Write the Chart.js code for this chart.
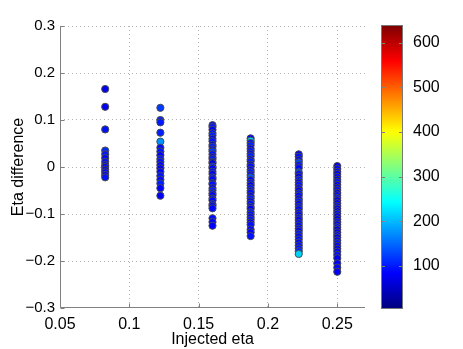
<!DOCTYPE html>
<html>
<head>
<meta charset="utf-8">
<script src="https://cdn.jsdelivr.net/npm/chart.js@4/dist/chart.umd.min.js"></script>
<style>
  body { margin: 0; background: #fff; }
  #wrap { position: relative; width: 463px; height: 349px; }
  #wrap canvas { position: absolute; left: 0; top: 0; }
</style>
</head>
<body>
<div id="wrap">
  <canvas id="main" width="463" height="349"></canvas>
  <canvas id="cbar" width="463" height="349"></canvas>
</div>
<script>
// columnas de eta inyectado
const injectedEta = [0.0826, 0.1224, 0.16, 0.1875, 0.2222, 0.25];

// diferencia de eta por columna
const etaDiff = [
  [0.166, 0.128, 0.080, 0.035, 0.027, 0.019, 0.011, 0.004, 0.000, -0.006, -0.011, -0.017, -0.022],
  [0.126, 0.100, 0.095, 0.073, 0.054, 0.041, 0.033, 0.025, 0.017, 0.011, 0.004, -0.003, -0.010, -0.019, -0.027, -0.035, -0.045, -0.061],
  [0.089, 0.085, 0.079, 0.072, 0.067, 0.060, 0.055, 0.047, 0.043, 0.037, 0.033, 0.027, 0.021, 0.017, 0.011, 0.008, 0.001, -0.003, -0.010, -0.015, -0.022, -0.026, -0.034, -0.037, -0.045, -0.050, -0.056, -0.060, -0.067, -0.071, -0.079, -0.083, -0.088, -0.109, -0.117, -0.125],
  [0.061, 0.056, 0.051, 0.046, 0.039, 0.034, 0.028, 0.023, 0.016, 0.012, 0.005, 0.001, -0.006, -0.011, -0.017, -0.022, -0.028, -0.034, -0.039, -0.045, -0.051, -0.055, -0.062, -0.067, -0.073, -0.078, -0.085, -0.089, -0.096, -0.101, -0.107, -0.112, -0.118, -0.123, -0.133, -0.139, -0.147],
  [0.027, 0.022, 0.015, 0.010, 0.004, -0.002, -0.011, -0.015, -0.021, -0.027, -0.033, -0.038, -0.045, -0.050, -0.056, -0.061, -0.068, -0.073, -0.079, -0.085, -0.090, -0.097, -0.102, -0.108, -0.113, -0.119, -0.125, -0.131, -0.136, -0.142, -0.148, -0.154, -0.161, -0.167, -0.173, -0.179, -0.185],
  [0.002, -0.004, -0.010, -0.015, -0.021, -0.027, -0.032, -0.038, -0.044, -0.049, -0.055, -0.060, -0.066, -0.071, -0.077, -0.083, -0.088, -0.094, -0.099, -0.105, -0.111, -0.117, -0.122, -0.128, -0.133, -0.139, -0.145, -0.150, -0.156, -0.162, -0.168, -0.174, -0.180, -0.187, -0.194, -0.205, -0.214, -0.223]
];

// valor de color (barra de color)
const colorValue = [
  [78, 80, 95, 110, 100, 88, 95, 82, 90, 80, 92, 84, 96],
  [120, 108, 100, 104, 175, 92, 98, 86, 102, 94, 88, 80, 90, 98, 92, 104, 86, 82],
  [88, 100, 82, 94, 106, 86, 98, 78, 104, 90, 118, 94, 82, 100, 70, 62, 112, 86, 96, 80, 100, 90, 82, 94, 86, 104, 90, 78, 96, 86, 100, 82, 90, 94, 86, 84],
  [86, 215, 94, 104, 82, 98, 90, 106, 86, 100, 78, 94, 90, 104, 94, 140, 86, 98, 82, 100, 90, 94, 78, 104, 86, 98, 90, 82, 100, 94, 86, 98, 82, 94, 90, 86, 94],
  [82, 94, 86, 130, 100, 90, 140, 94, 82, 104, 86, 98, 90, 78, 100, 94, 86, 104, 82, 98, 90, 94, 86, 100, 82, 98, 90, 94, 78, 100, 86, 98, 90, 94, 100, 110, 215],
  [78, 86, 94, 82, 90, 74, 98, 86, 82, 94, 78, 90, 100, 82, 86, 94, 90, 78, 98, 86, 82, 94, 90, 100, 78, 86, 94, 82, 90, 98, 86, 78, 90, 94, 82, 86, 90, 80]
];

const xTicks = [0.05, 0.1, 0.15, 0.2, 0.25];
const yTicks = [-0.3, -0.2, -0.1, 0, 0.1, 0.2, 0.3];
const cTicks = [100, 200, 300, 400, 500, 600];
const cMin = 6, cMax = 637;

const fontFam = '"Liberation Sans", Arial, Helvetica, sans-serif';

// mapa de color jet
const jetStops = [[0, 0, 0, 0.5], [0.125, 0, 0, 1], [0.375, 0, 1, 1], [0.625, 1, 1, 0], [0.875, 1, 0, 0], [1, 0.5, 0, 0]];
function jet(v) {
  let t = (v - cMin) / (cMax - cMin);
  t = Math.max(0, Math.min(1, t));
  for (let i = 1; i < jetStops.length; i++) {
    const a = jetStops[i - 1], b = jetStops[i];
    if (t <= b[0]) {
      const f = (t - a[0]) / (b[0] - a[0]);
      const c = [1, 2, 3].map(k => Math.round(255 * (a[k] + (b[k] - a[k]) * f)));
      return 'rgb(' + c.join(',') + ')';
    }
  }
  return 'rgb(128,0,0)';
}

const datasets = injectedEta.map((x, i) => ({
  data: etaDiff[i].map(y => ({ x: x, y: y })),
  pointBackgroundColor: colorValue[i].map(jet),
  pointBorderColor: '#4a4a4a',
  pointBorderWidth: 1,
  pointRadius: 3.6
}));

function fmt(v) {
  if (Math.abs(v) < 1e-9) return '0';
  return String(+v.toFixed(2)).replace('-', '\u2212');
}

// ejes solidos y marcas de tick hacia adentro
const innerTicks = {
  id: 'innerTicks',
  afterDraw(chart) {
    const ctx = chart.ctx, a = chart.chartArea;
    ctx.save();
    ctx.strokeStyle = '#808080';
    ctx.lineWidth = 1;
    ctx.setLineDash([]);
    ctx.beginPath();
    if (chart.canvas.id === 'main') {
      const L = Math.round(a.left) + 0.5, B = Math.round(a.bottom) - 0.5;
      ctx.moveTo(L, Math.round(a.top)); ctx.lineTo(L, B); ctx.lineTo(Math.round(a.right), B);
      xTicks.forEach(v => {
        const px = Math.round(chart.scales.x.getPixelForValue(v)) + 0.5;
        ctx.moveTo(px, B); ctx.lineTo(px, B - 4);
      });
      yTicks.forEach(v => {
        const py = Math.round(chart.scales.y.getPixelForValue(v)) + 0.5;
        ctx.moveTo(L, py); ctx.lineTo(L + 4, py);
      });
    } else {
      cTicks.forEach(v => {
        const py = Math.round(chart.scales.y.getPixelForValue(v)) + 0.5;
        ctx.moveTo(a.left, py); ctx.lineTo(a.left + 3, py);
        ctx.moveTo(a.right, py); ctx.lineTo(a.right - 3, py);
      });
    }
    ctx.stroke();
    ctx.restore();
  }
};

new Chart(document.getElementById('main'), {
  type: 'scatter',
  data: { datasets: datasets },
  options: {
    responsive: false,
    animation: false,
    layout: { padding: { left: 0, right: 98, top: 26, bottom: 0 } },
    plugins: { legend: { display: false }, tooltip: { enabled: false } },
    scales: {
      x: {
        type: 'linear', min: 0.05, max: 0.27,
        afterBuildTicks: s => { s.ticks = xTicks.map(v => ({ value: v })); },
        afterFit: s => { s.height = 41; },
        grid: { color: c => c.tick && c.tick.value === 0.05 ? 'rgba(0,0,0,0)' : '#b4b4b4', drawTicks: false },
        border: { display: false, dash: [1, 3] },
        ticks: { color: '#000', padding: 7, font: { family: fontFam, size: 16 }, callback: v => fmt(v) },
        title: { display: true, text: 'Injected eta', color: '#000', padding: { top: -7, bottom: 0 }, font: { family: fontFam, size: 16 } }
      },
      y: {
        type: 'linear', min: -0.3, max: 0.3,
        afterBuildTicks: s => { s.ticks = yTicks.map(v => ({ value: v })); },
        afterFit: s => { s.width = 60; },
        grid: { color: c => c.tick && c.tick.value === -0.3 ? 'rgba(0,0,0,0)' : '#b4b4b4', drawTicks: false },
        border: { display: false, dash: [1, 3] },
        ticks: { color: '#000', padding: 5, font: { family: fontFam, size: 15 }, callback: v => fmt(v) },
        title: { display: true, text: 'Eta difference', color: '#000', padding: { top: 9, bottom: 0 }, font: { family: fontFam, size: 16 } }
      }
    }
  },
  plugins: [innerTicks]
});

// barra de color jet
const jetBar = {
  id: 'jetBar',
  beforeDraw(chart) {
    const ctx = chart.ctx, a = chart.chartArea, s = chart.scales.y;
    const g = ctx.createLinearGradient(0, s.getPixelForValue(cMin), 0, s.getPixelForValue(cMax));
    jetStops.forEach(st => {
      g.addColorStop(st[0], 'rgb(' + [st[1], st[2], st[3]].map(c => Math.round(c * 255)).join(',') + ')');
    });
    ctx.save();
    ctx.fillStyle = g;
    ctx.fillRect(a.left, a.top, a.right - a.left, a.bottom - a.top);
    ctx.strokeStyle = '#777';
    ctx.lineWidth = 1;
    ctx.strokeRect(a.left - 0.5, a.top - 0.5, a.right - a.left + 1, a.bottom - a.top + 1);
    ctx.restore();
  }
};

new Chart(document.getElementById('cbar'), {
  type: 'scatter',
  data: { datasets: [] },
  options: {
    responsive: false,
    animation: false,
    layout: { padding: { left: 382, right: 0, top: 26, bottom: 41 } },
    plugins: { legend: { display: false }, tooltip: { enabled: false } },
    scales: {
      x: { display: false },
      y: {
        type: 'linear', position: 'right', min: cMin, max: cMax,
        afterBuildTicks: s => { s.ticks = cTicks.map(v => ({ value: v })); },
        afterFit: s => { s.width = 61; },
        grid: { display: false },
        border: { display: false },
        ticks: { color: '#000', padding: 3, font: { family: fontFam, size: 16 } }
      }
    }
  },
  plugins: [jetBar, innerTicks]
});
</script>
</body>
</html>
